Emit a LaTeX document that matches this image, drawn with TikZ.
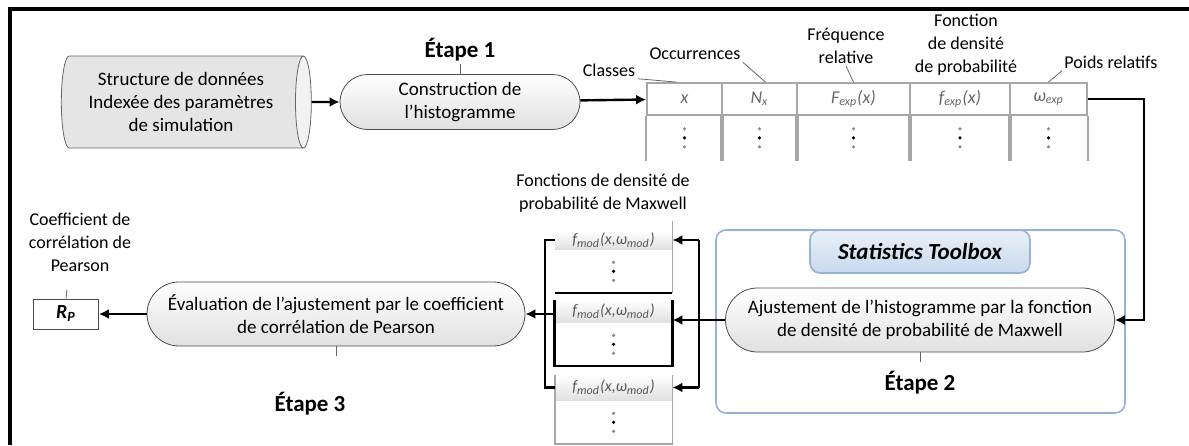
\documentclass[tikz,border=0pt]{standalone}
\usepackage{fontspec}
\setmainfont{Carlito}
\usetikzlibrary{arrows.meta,shapes.geometric,shapes.misc,positioning}
\definecolor{tbblue}{RGB}{149,179,215}
\definecolor{tbtop}{RGB}{234,240,248}
\definecolor{tbbot}{RGB}{200,217,238}

\begin{document}
\begin{tikzpicture}[x=0.5pt, y=-0.5pt, every node/.style={font=\fontsize{9.5}{11.5}\selectfont, align=center, inner sep=1pt}, >={Latex[length=5pt,width=5pt]},
	stepbox/.style={rounded rectangle, draw=black!70, thin, top color=white, bottom color=black!12},
	steplbl/.style={font=\fontsize{11.5}{13}\selectfont\bfseries},
	lbl/.style={font=\fontsize{9}{11.5}\selectfont},
	tick/.style={draw=black!60, thin},
	flow/.style={->, line width=1.2pt},
	bus/.style={line width=1.2pt},
	grid/.style={draw=black!35, line width=0.9pt},
	hcell/.style={grid, minimum height=16pt, inner sep=0pt, font=\fontsize{9}{10}\selectfont\itshape\color{black!60}},
	mhead/.style={minimum width=58.5pt, inner sep=0pt, top color=white, bottom color=black!12, font=\fontsize{8}{9}\selectfont\itshape\color{black!65}},
	mbody/.style={minimum width=58.5pt, inner sep=0pt},
	colondots/.pic={\fill[black!45] (0,-9) circle (0.9pt); \fill (0,0) circle (0.9pt); \fill[black!45] (0,9) circle (0.9pt);}]
	\useasboundingbox (0,0) rectangle (1189,445);
	\draw[line width=2pt] (10,445) -- (10,9) -- (1189,9);

	% etape 1
	\node[cylinder, draw=black!60, shape aspect=0.25, cylinder uses custom fill, cylinder body fill=black!10, cylinder end fill=black!5, minimum width=46pt, minimum height=125pt] (data) at (181,102) {Structure de données\\Indexée des paramètres\\de simulation};
	\node[stepbox, minimum width=122pt, minimum height=27.5pt] (step1) at (460,102) {Construction de\\l'histogramme};
	\node[steplbl] (lstep1) at (460,50) {Étape 1};
	\draw[tick] (step1.north) -- ++(0,-10);
	\draw[flow] (data) -- (step1);

	% tableau de l'histogramme
	\node[hcell, minimum width=37.5pt] (cx) at (684.5,99) {x};
	\node[hcell, minimum width=37.5pt] (cN) at (759.5,99) {N\textsubscript{x}};
	\node[hcell, minimum width=56.5pt] (cF) at (853.5,99) {F\textsubscript{exp}(x)};
	\node[hcell, minimum width=50pt] (cf) at (960,99) {f\textsubscript{exp}(x)};
	\node[hcell, minimum width=38.5pt] (cw) at (1048.5,99) {ω\textsubscript{exp}};
	\foreach \c in {cx,cN,cF,cf,cw} {
		\draw[grid] (\c.south west) -- ++(0,45) (\c.south east) -- ++(0,45);
		\path (\c.south) ++(0,22) pic {colondots};
	}
	\draw[flow] (step1) -- (cx);
	\node[lbl] (lclass) at (609,70) {Classes};
	\node[lbl] (locc) at (695,54) {Occurrences};
	\node[lbl] (lfreq) at (846,46) {Fréquence\\relative};
	\node[lbl] (ldens) at (966,45) {Fonction\\de densité\\de probabilité};
	\node[lbl] (lpoids) at (1111,62) {Poids relatifs};
	\draw[tick] (lclass.south east) -- ([xshift=-4pt]cx.north);
	\draw[tick] (locc.south east) -- ([xshift=3pt]cN.north);
	\draw[tick] (lfreq.south) -- (cF.north);
	\draw[tick] (lpoids.south west) -- (cw.north);

	% etape 2
	\node[draw=tbblue, line width=0.8pt, rounded corners=5pt, minimum width=204.5pt, minimum height=91.5pt] (toolbox) at (920.5,321.5) {};
	\node[draw=tbblue, line width=0.8pt, rounded corners=5pt, top color=tbtop, bottom color=tbbot, minimum width=110pt, minimum height=21.5pt, font=\fontsize{11.5}{13}\selectfont\bfseries\itshape] (tbtitle) at (920,251.5) {Statistics Toolbox};
	\node[stepbox, minimum width=196.5pt, minimum height=32pt] (step2) at (920,320) {Ajustement de l'histogramme par la fonction\\de densité de probabilité de Maxwell};
	\node[steplbl] (lstep2) at (920,383) {Étape 2};
	\draw[tick] (step2.south) -- ++(0,10);
	\draw[flow] (cw.east) -- ++(56,0) |- (step2.east);

	% fonctions de Maxwell
	\node[lbl] (lmax) at (603,193) {Fonctions de densité de\\probabilité de Maxwell};
	\node[mhead, minimum height=9pt] (t1h) at (613.5,240) {f\textsubscript{mod}(x,ω\textsubscript{mod})};
	\node[mbody, minimum height=21.5pt, below=0pt of t1h] (t1) {};
	\node[mhead, minimum height=11pt] (t2h) at (613.5,311) {f\textsubscript{mod}(x,ω\textsubscript{mod})};
	\node[mbody, minimum height=21.5pt, below=0pt of t2h] (t2) {};
	\node[mhead, minimum height=12.5pt] (t3h) at (613.5,387.5) {f\textsubscript{mod}(x,ω\textsubscript{mod})};
	\node[mbody, minimum height=21.5pt, below=0pt of t3h] (t3) {};
	\foreach \t in {t1,t2,t3}
		\path (\t.center) pic {colondots};
	\draw[grid] ([yshift=5pt]t1h.north east) -- (t1.south east);
	\draw[line width=1.2pt] (t1.south west) -- (t1.south east);
	\draw[line width=1.2pt] (t2h.north west) -- (t2.south west) -- (t2.south east) -- (t2h.north east);
	\draw[grid] (t3h.north west) -- (t3.south west) -- (t3.south east) -- (t3h.north east);
	\coordinate (busR) at (699,320);
	\coordinate (busL) at (545,314);
	\draw[bus] (step2.west) -- (busR);
	\draw[bus] (busR |- t1h.east) -- (busR |- t3h.east);
	\draw[flow] (busR |- t1h.east) -- (t1h.east);
	\draw[flow] (busR) -- (t2h.east |- busR);
	\draw[flow] (busR |- t3h.east) -- (t3h.east);
	\draw[bus] (t1h.west) -| (busL) |- (t3h.west);

	% etape 3
	\node[stepbox, minimum width=191pt, minimum height=32pt] (step3) at (336,314) {Évaluation de l'ajustement par le coefficient\\de corrélation de Pearson};
	\node[steplbl] (lstep3) at (310,404) {Étape 3};
	\draw[tick] (step3.south) -- ++(0,10);
	\draw[flow] (t2h.west |- busL) -- (step3.east);
	\node[draw=black!70, minimum width=32.5pt, minimum height=15pt, font=\fontsize{10}{12}\selectfont\bfseries\itshape] (rp) at (66,314) {R\textsubscript{P}};
	\node[lbl] (lrp) at (80,242) {Coefficient de\\corrélation de\\Pearson};
	\draw[tick] (rp.north) -- ++(1,-9);
	\draw[flow] (step3.west) -- (rp.east);
\end{tikzpicture}
\end{document}
